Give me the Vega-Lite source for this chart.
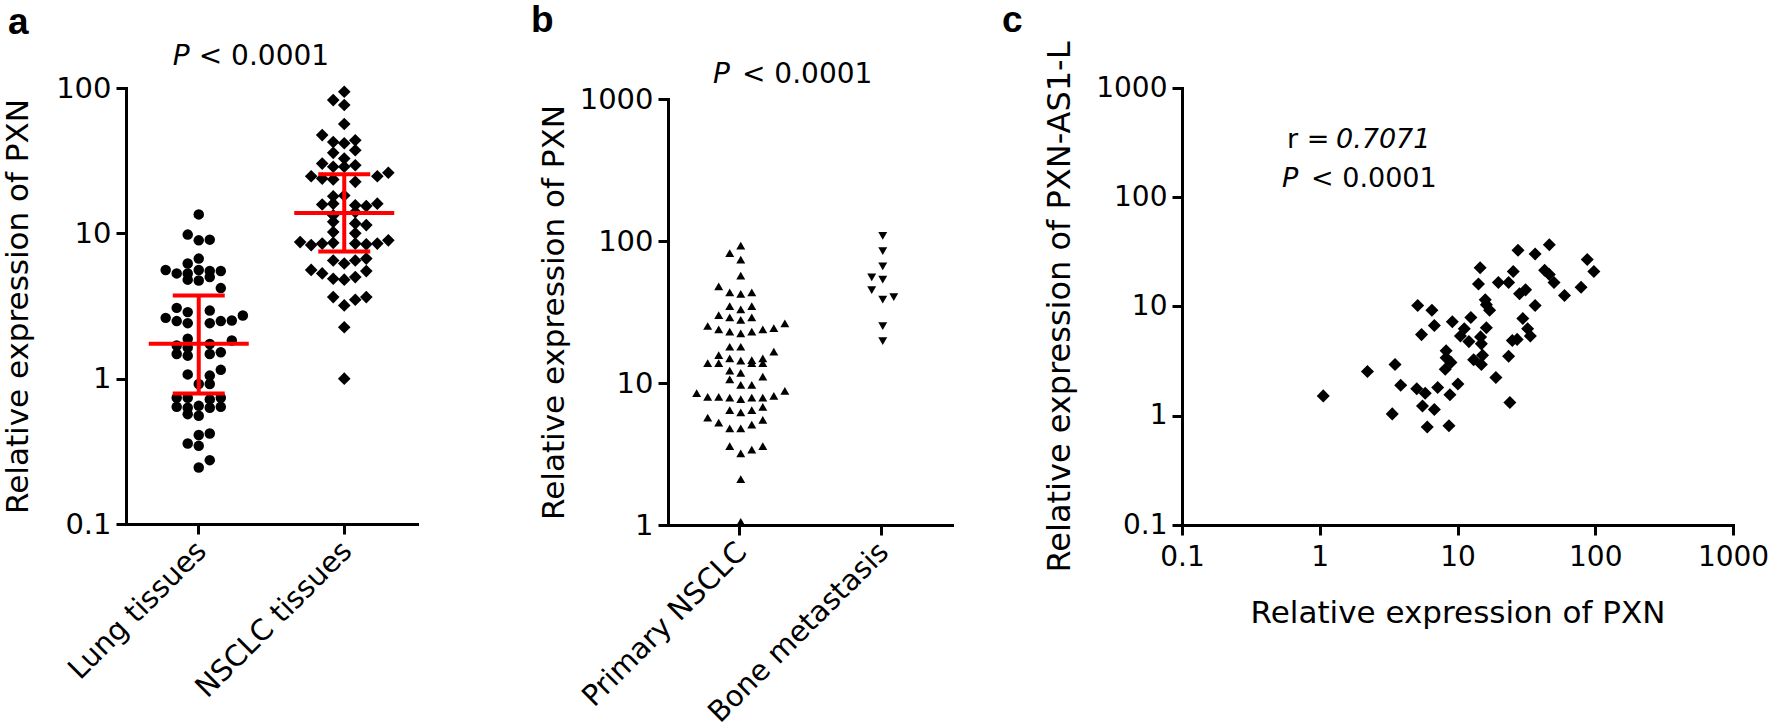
{
  "$schema": "https://vega.github.io/schema/vega-lite/v6.json",
  "autosize": {"type": "none"},
  "padding": {"left": 126, "top": 88, "right": 1646, "bottom": 634},
  "background": "white",
  "bounds": "flush",
  "spacing": 0,
  "config": {
    "view": {"stroke": null},
    "font": "DejaVu Sans",
    "axis": {
      "domainColor": "black", "domainWidth": 3, "domainCap": "square",
      "tickColor": "black", "tickWidth": 3, "tickSize": 10,
      "labelColor": "black", "titleColor": "black",
      "labelFont": "DejaVu Sans", "titleFont": "DejaVu Sans",
      "labelFontSize": 29, "titleFontSize": 31, "titleFontWeight": "normal",
      "grid": false, "labelPadding": 5, "labelOverlap": false, "labelBound": false, "labelFlush": false, "labelLimit": 0, "titleLimit": 0
    },
    "title": {"font": "Liberation Sans", "fontSize": 37, "fontWeight": "bold", "color": "black", "anchor": "start", "frame": "group"}
  },
  "datasets": {
    "one": [{}],
    "a": [
      {"g": "Lung tissues", "v": 13.5, "col": 0},
      {"g": "Lung tissues", "v": 9.8, "col": -1},
      {"g": "Lung tissues", "v": 8.95, "col": 0},
      {"g": "Lung tissues", "v": 9.05, "col": 1},
      {"g": "Lung tissues", "v": 6.7, "col": 0},
      {"g": "Lung tissues", "v": 6.2, "col": -1},
      {"g": "Lung tissues", "v": 5.6, "col": -3},
      {"g": "Lung tissues", "v": 5.3, "col": -2},
      {"g": "Lung tissues", "v": 5.3, "col": -1},
      {"g": "Lung tissues", "v": 5.6, "col": 0},
      {"g": "Lung tissues", "v": 5.5, "col": 1},
      {"g": "Lung tissues", "v": 5.5, "col": 2},
      {"g": "Lung tissues", "v": 4.8, "col": -1},
      {"g": "Lung tissues", "v": 4.74, "col": 0},
      {"g": "Lung tissues", "v": 5.0, "col": 1},
      {"g": "Lung tissues", "v": 4.2, "col": 2},
      {"g": "Lung tissues", "v": 3.07, "col": -2},
      {"g": "Lung tissues", "v": 2.87, "col": -1},
      {"g": "Lung tissues", "v": 2.94, "col": 1},
      {"g": "Lung tissues", "v": 2.62, "col": -3},
      {"g": "Lung tissues", "v": 2.49, "col": -2},
      {"g": "Lung tissues", "v": 2.41, "col": -1},
      {"g": "Lung tissues", "v": 2.41, "col": 1},
      {"g": "Lung tissues", "v": 2.49, "col": 2},
      {"g": "Lung tissues", "v": 2.51, "col": 3},
      {"g": "Lung tissues", "v": 2.72, "col": 4},
      {"g": "Lung tissues", "v": 1.88, "col": -1},
      {"g": "Lung tissues", "v": 1.83, "col": 3},
      {"g": "Lung tissues", "v": 1.69, "col": -2},
      {"g": "Lung tissues", "v": 1.64, "col": -1},
      {"g": "Lung tissues", "v": 1.73, "col": 1},
      {"g": "Lung tissues", "v": 1.52, "col": 2},
      {"g": "Lung tissues", "v": 1.48, "col": -2},
      {"g": "Lung tissues", "v": 1.44, "col": -1},
      {"g": "Lung tissues", "v": 1.48, "col": 1},
      {"g": "Lung tissues", "v": 1.15, "col": 2},
      {"g": "Lung tissues", "v": 1.07, "col": -1},
      {"g": "Lung tissues", "v": 1.05, "col": 1},
      {"g": "Lung tissues", "v": 0.92, "col": 0},
      {"g": "Lung tissues", "v": 0.92, "col": 1},
      {"g": "Lung tissues", "v": 0.74, "col": -2},
      {"g": "Lung tissues", "v": 0.74, "col": -1},
      {"g": "Lung tissues", "v": 0.74, "col": 2},
      {"g": "Lung tissues", "v": 0.72, "col": 1},
      {"g": "Lung tissues", "v": 0.64, "col": -2},
      {"g": "Lung tissues", "v": 0.63, "col": -1},
      {"g": "Lung tissues", "v": 0.65, "col": 0},
      {"g": "Lung tissues", "v": 0.63, "col": 1},
      {"g": "Lung tissues", "v": 0.64, "col": 2},
      {"g": "Lung tissues", "v": 0.57, "col": -1},
      {"g": "Lung tissues", "v": 0.556, "col": 0},
      {"g": "Lung tissues", "v": 0.41, "col": 0},
      {"g": "Lung tissues", "v": 0.42, "col": 1},
      {"g": "Lung tissues", "v": 0.358, "col": -1},
      {"g": "Lung tissues", "v": 0.345, "col": 0},
      {"g": "Lung tissues", "v": 0.275, "col": 1},
      {"g": "Lung tissues", "v": 0.245, "col": 0},
      {"g": "NSCLC tissues", "v": 94.3, "col": 0},
      {"g": "NSCLC tissues", "v": 82.6, "col": -1},
      {"g": "NSCLC tissues", "v": 76.4, "col": 0},
      {"g": "NSCLC tissues", "v": 56.5, "col": 0},
      {"g": "NSCLC tissues", "v": 47.4, "col": -2},
      {"g": "NSCLC tissues", "v": 42.5, "col": -1},
      {"g": "NSCLC tissues", "v": 41.7, "col": 0},
      {"g": "NSCLC tissues", "v": 43.7, "col": 1},
      {"g": "NSCLC tissues", "v": 35.8, "col": -1},
      {"g": "NSCLC tissues", "v": 32.7, "col": 0},
      {"g": "NSCLC tissues", "v": 37.3, "col": 1},
      {"g": "NSCLC tissues", "v": 30.2, "col": -2},
      {"g": "NSCLC tissues", "v": 28.7, "col": -1},
      {"g": "NSCLC tissues", "v": 28.7, "col": 0},
      {"g": "NSCLC tissues", "v": 29.4, "col": 1},
      {"g": "NSCLC tissues", "v": 24.7, "col": -3},
      {"g": "NSCLC tissues", "v": 23.8, "col": -2},
      {"g": "NSCLC tissues", "v": 23.5, "col": -1},
      {"g": "NSCLC tissues", "v": 22.6, "col": 1},
      {"g": "NSCLC tissues", "v": 24.7, "col": 3},
      {"g": "NSCLC tissues", "v": 26.1, "col": 4},
      {"g": "NSCLC tissues", "v": 18.0, "col": -1},
      {"g": "NSCLC tissues", "v": 18.2, "col": 0},
      {"g": "NSCLC tissues", "v": 15.8, "col": -2},
      {"g": "NSCLC tissues", "v": 16.0, "col": -1},
      {"g": "NSCLC tissues", "v": 15.6, "col": 1},
      {"g": "NSCLC tissues", "v": 15.4, "col": 2},
      {"g": "NSCLC tissues", "v": 16.0, "col": 3},
      {"g": "NSCLC tissues", "v": 13.3, "col": -1},
      {"g": "NSCLC tissues", "v": 14.0, "col": 1},
      {"g": "NSCLC tissues", "v": 12.0, "col": -1},
      {"g": "NSCLC tissues", "v": 11.7, "col": 1},
      {"g": "NSCLC tissues", "v": 11.4, "col": 2},
      {"g": "NSCLC tissues", "v": 10.2, "col": -1},
      {"g": "NSCLC tissues", "v": 10.0, "col": 1},
      {"g": "NSCLC tissues", "v": 8.7, "col": -4},
      {"g": "NSCLC tissues", "v": 8.3, "col": -3},
      {"g": "NSCLC tissues", "v": 8.5, "col": -2},
      {"g": "NSCLC tissues", "v": 8.6, "col": -1},
      {"g": "NSCLC tissues", "v": 8.5, "col": 1},
      {"g": "NSCLC tissues", "v": 8.4, "col": 2},
      {"g": "NSCLC tissues", "v": 8.5, "col": 3},
      {"g": "NSCLC tissues", "v": 8.95, "col": 4},
      {"g": "NSCLC tissues", "v": 6.5, "col": -1},
      {"g": "NSCLC tissues", "v": 6.2, "col": 0},
      {"g": "NSCLC tissues", "v": 6.5, "col": 1},
      {"g": "NSCLC tissues", "v": 6.7, "col": 2},
      {"g": "NSCLC tissues", "v": 5.6, "col": -3},
      {"g": "NSCLC tissues", "v": 5.3, "col": -2},
      {"g": "NSCLC tissues", "v": 4.87, "col": -1},
      {"g": "NSCLC tissues", "v": 4.8, "col": 0},
      {"g": "NSCLC tissues", "v": 5.0, "col": 1},
      {"g": "NSCLC tissues", "v": 5.5, "col": 2},
      {"g": "NSCLC tissues", "v": 3.64, "col": -1},
      {"g": "NSCLC tissues", "v": 3.19, "col": 0},
      {"g": "NSCLC tissues", "v": 3.49, "col": 1},
      {"g": "NSCLC tissues", "v": 3.64, "col": 2},
      {"g": "NSCLC tissues", "v": 2.26, "col": 0},
      {"g": "NSCLC tissues", "v": 1.0, "col": 0}
    ],
    "astats": [
      {"g": "Lung tissues", "median": 1.74, "lo": 0.79, "hi": 3.74},
      {"g": "NSCLC tissues", "median": 13.8, "lo": 7.5, "hi": 25.5}
    ],
    "b": [
      {"g": "Primary NSCLC", "v": 92.7, "col": 0},
      {"g": "Primary NSCLC", "v": 82.3, "col": -1},
      {"g": "Primary NSCLC", "v": 73.8, "col": 0},
      {"g": "Primary NSCLC", "v": 57.0, "col": 0},
      {"g": "Primary NSCLC", "v": 48, "col": -2},
      {"g": "Primary NSCLC", "v": 43.5, "col": -1},
      {"g": "Primary NSCLC", "v": 42.4, "col": 0},
      {"g": "Primary NSCLC", "v": 43.5, "col": 1},
      {"g": "Primary NSCLC", "v": 34.8, "col": -1},
      {"g": "Primary NSCLC", "v": 33.0, "col": 0},
      {"g": "Primary NSCLC", "v": 34.8, "col": 1},
      {"g": "Primary NSCLC", "v": 30.1, "col": -2},
      {"g": "Primary NSCLC", "v": 29.0, "col": -1},
      {"g": "Primary NSCLC", "v": 27.8, "col": 0},
      {"g": "Primary NSCLC", "v": 29.0, "col": 1},
      {"g": "Primary NSCLC", "v": 25.2, "col": -3},
      {"g": "Primary NSCLC", "v": 23.9, "col": -2},
      {"g": "Primary NSCLC", "v": 23.0, "col": -1},
      {"g": "Primary NSCLC", "v": 22.4, "col": 0},
      {"g": "Primary NSCLC", "v": 23.0, "col": 1},
      {"g": "Primary NSCLC", "v": 23.9, "col": 2},
      {"g": "Primary NSCLC", "v": 24.3, "col": 3},
      {"g": "Primary NSCLC", "v": 26.3, "col": 4},
      {"g": "Primary NSCLC", "v": 18.0, "col": -1},
      {"g": "Primary NSCLC", "v": 18.0, "col": 0},
      {"g": "Primary NSCLC", "v": 16.6, "col": 3},
      {"g": "Primary NSCLC", "v": 13.8, "col": -3},
      {"g": "Primary NSCLC", "v": 13.8, "col": -2},
      {"g": "Primary NSCLC", "v": 15.7, "col": -2},
      {"g": "Primary NSCLC", "v": 14.9, "col": -1},
      {"g": "Primary NSCLC", "v": 14.4, "col": 0},
      {"g": "Primary NSCLC", "v": 13.8, "col": 1},
      {"g": "Primary NSCLC", "v": 14.5, "col": 1},
      {"g": "Primary NSCLC", "v": 13.8, "col": 2},
      {"g": "Primary NSCLC", "v": 14.9, "col": 2},
      {"g": "Primary NSCLC", "v": 12.2, "col": -1},
      {"g": "Primary NSCLC", "v": 11.8, "col": 0},
      {"g": "Primary NSCLC", "v": 10.6, "col": -1},
      {"g": "Primary NSCLC", "v": 11.1, "col": 2},
      {"g": "Primary NSCLC", "v": 9.7, "col": 0},
      {"g": "Primary NSCLC", "v": 9.7, "col": 1},
      {"g": "Primary NSCLC", "v": 8.5, "col": -4},
      {"g": "Primary NSCLC", "v": 8.0, "col": -3},
      {"g": "Primary NSCLC", "v": 8.0, "col": -2},
      {"g": "Primary NSCLC", "v": 7.9, "col": -1},
      {"g": "Primary NSCLC", "v": 7.7, "col": 0},
      {"g": "Primary NSCLC", "v": 7.9, "col": 1},
      {"g": "Primary NSCLC", "v": 7.9, "col": 2},
      {"g": "Primary NSCLC", "v": 8.1, "col": 3},
      {"g": "Primary NSCLC", "v": 8.8, "col": 4},
      {"g": "Primary NSCLC", "v": 6.45, "col": -1},
      {"g": "Primary NSCLC", "v": 6.2, "col": 0},
      {"g": "Primary NSCLC", "v": 6.45, "col": 1},
      {"g": "Primary NSCLC", "v": 6.8, "col": 2},
      {"g": "Primary NSCLC", "v": 5.7, "col": -3},
      {"g": "Primary NSCLC", "v": 5.25, "col": -2},
      {"g": "Primary NSCLC", "v": 4.8, "col": -1},
      {"g": "Primary NSCLC", "v": 4.8, "col": 0},
      {"g": "Primary NSCLC", "v": 5.1, "col": 1},
      {"g": "Primary NSCLC", "v": 5.5, "col": 2},
      {"g": "Primary NSCLC", "v": 3.6, "col": -1},
      {"g": "Primary NSCLC", "v": 3.2, "col": 0},
      {"g": "Primary NSCLC", "v": 3.4, "col": 1},
      {"g": "Primary NSCLC", "v": 3.6, "col": 2},
      {"g": "Primary NSCLC", "v": 2.1, "col": 0},
      {"g": "Primary NSCLC", "v": 1.05, "col": 0},
      {"g": "Bone metastasis", "v": 108.6, "col": 0},
      {"g": "Bone metastasis", "v": 84.9, "col": 0},
      {"g": "Bone metastasis", "v": 66.2, "col": 0},
      {"g": "Bone metastasis", "v": 55.4, "col": -1},
      {"g": "Bone metastasis", "v": 53.4, "col": 0},
      {"g": "Bone metastasis", "v": 45.0, "col": -1},
      {"g": "Bone metastasis", "v": 38.7, "col": 0},
      {"g": "Bone metastasis", "v": 40.2, "col": 1},
      {"g": "Bone metastasis", "v": 25.1, "col": 0},
      {"g": "Bone metastasis", "v": 19.7, "col": 0}
    ],
    "c": [
      {"pxn": 1.06, "as1": 1.52}, {"pxn": 2.22, "as1": 2.54}, {"pxn": 3.52, "as1": 2.94}, {"pxn": 3.87, "as1": 1.90},
      {"pxn": 3.36, "as1": 1.04}, {"pxn": 5.14, "as1": 10.2}, {"pxn": 5.48, "as1": 5.53}, {"pxn": 5.06, "as1": 1.77},
      {"pxn": 5.83, "as1": 1.61}, {"pxn": 5.57, "as1": 1.23}, {"pxn": 6.03, "as1": 0.79}, {"pxn": 6.52, "as1": 9.25},
      {"pxn": 6.79, "as1": 6.71}, {"pxn": 6.79, "as1": 1.14}, {"pxn": 7.18, "as1": 1.81}, {"pxn": 8.27, "as1": 3.40},
      {"pxn": 8.27, "as1": 3.94}, {"pxn": 8.15, "as1": 2.67}, {"pxn": 8.96, "as1": 3.08}, {"pxn": 9.17, "as1": 7.26},
      {"pxn": 8.67, "as1": 0.81}, {"pxn": 8.81, "as1": 1.56}, {"pxn": 10.07, "as1": 1.95}, {"pxn": 10.5, "as1": 5.37},
      {"pxn": 11.2, "as1": 6.27}, {"pxn": 12.1, "as1": 4.77}, {"pxn": 12.5, "as1": 7.93}, {"pxn": 13.1, "as1": 3.25},
      {"pxn": 14.2, "as1": 16.1}, {"pxn": 14.6, "as1": 22.6}, {"pxn": 14.7, "as1": 5.27}, {"pxn": 14.9, "as1": 4.55},
      {"pxn": 15.2, "as1": 3.57}, {"pxn": 14.9, "as1": 2.94}, {"pxn": 15.9, "as1": 11.5}, {"pxn": 16.2, "as1": 10.4},
      {"pxn": 16.2, "as1": 6.4}, {"pxn": 17.1, "as1": 9.25}, {"pxn": 19.8, "as1": 16.6}, {"pxn": 19.0, "as1": 2.24},
      {"pxn": 23.5, "as1": 16.6}, {"pxn": 23.5, "as1": 3.50}, {"pxn": 24.0, "as1": 1.32}, {"pxn": 25.4, "as1": 20.9},
      {"pxn": 25.0, "as1": 4.88}, {"pxn": 27.1, "as1": 5.0}, {"pxn": 27.5, "as1": 32.7}, {"pxn": 28.2, "as1": 13.1},
      {"pxn": 29.8, "as1": 7.76}, {"pxn": 31.2, "as1": 14.2}, {"pxn": 32.3, "as1": 6.27}, {"pxn": 33.8, "as1": 5.37},
      {"pxn": 36.6, "as1": 30.3}, {"pxn": 36.6, "as1": 10.2}, {"pxn": 42.9, "as1": 21.5}, {"pxn": 46.4, "as1": 19.6},
      {"pxn": 46.4, "as1": 36.7}, {"pxn": 50.2, "as1": 16.6}, {"pxn": 59.8, "as1": 12.6}, {"pxn": 78.9, "as1": 15.0},
      {"pxn": 87.5, "as1": 26.9}, {"pxn": 97.7, "as1": 20.9}
    ]
  },
  "hconcat": [
    {
      "width": 291, "height": 436,
      "title": {"text": "a", "dx": -118, "offset": 1},
      "layer": [
        {
          "data": {"name": "a"},
          "transform": [{"filter": "datum.g === 'Lung tissues'"}],
          "mark": {"type": "point", "shape": "circle", "filled": true, "opacity": 1, "color": "black", "size": 110},
          "encoding": {
            "x": {"field": "g", "type": "nominal", "scale": {"domain": ["Lung tissues", "NSCLC tissues"], "paddingInner": 0, "paddingOuter": 0},
                  "axis": {"title": null, "labelAngle": -45, "labelAlign": "right", "labelBaseline": "top", "labelOffset": -7, "labelPadding": 2}},
            "xOffset": {"field": "col", "type": "quantitative", "scale": {"domain": [-6.6, 6.6]}},
            "y": {"field": "v", "type": "quantitative", "scale": {"type": "log", "domain": [0.1, 100], "nice": false},
                  "axis": {"values": [0.1, 1, 10, 100], "format": "~g", "title": "Relative expression of PXN", "titlePadding": 21}}
          }
        },
        {
          "data": {"name": "a"},
          "transform": [{"filter": "datum.g === 'NSCLC tissues'"}],
          "mark": {"type": "point", "shape": "diamond", "filled": true, "opacity": 1, "color": "black", "size": 160},
          "encoding": {
            "x": {"field": "g", "type": "nominal"},
            "xOffset": {"field": "col", "type": "quantitative", "scale": {"domain": [-6.6, 6.6]}},
            "y": {"field": "v", "type": "quantitative"}
          }
        },
        {
          "data": {"name": "astats"},
          "mark": {"type": "rule", "color": "#ff0000", "strokeWidth": 4},
          "encoding": {
            "x": {"field": "g", "type": "nominal"},
            "y": {"field": "lo", "type": "quantitative"},
            "y2": {"field": "hi"}
          }
        },
        {
          "data": {"name": "astats"},
          "mark": {"type": "tick", "color": "#ff0000", "size": 100, "thickness": 4, "opacity": 1},
          "encoding": {"x": {"field": "g", "type": "nominal"}, "y": {"field": "median", "type": "quantitative"}}
        },
        {
          "data": {"name": "astats"},
          "mark": {"type": "tick", "color": "#ff0000", "size": 52, "thickness": 4, "opacity": 1},
          "encoding": {"x": {"field": "g", "type": "nominal"}, "y": {"field": "lo", "type": "quantitative"}}
        },
        {
          "data": {"name": "astats"},
          "mark": {"type": "tick", "color": "#ff0000", "size": 52, "thickness": 4, "opacity": 1},
          "encoding": {"x": {"field": "g", "type": "nominal"}, "y": {"field": "hi", "type": "quantitative"}}
        },
        {
          "data": {"name": "one"},
          "mark": {"type": "text", "text": "P", "fontStyle": "italic", "fontSize": 28, "align": "left", "baseline": "alphabetic", "dx": -26, "color": "black"},
          "encoding": {"x": {"datum": "Lung tissues"}, "y": {"datum": 144}}
        },
        {
          "data": {"name": "one"},
          "mark": {"type": "text", "text": "< 0.0001", "fontSize": 28, "align": "left", "baseline": "alphabetic", "dx": 0, "color": "black"},
          "encoding": {"x": {"datum": "Lung tissues"}, "y": {"datum": 144}}
        }
      ]
    },
    {"width": 251, "height": 10, "data": {"values": []}, "mark": {"type": "point", "opacity": 0}, "encoding": {}},
    {
      "width": 284, "height": 437,
      "title": {"text": "b", "dx": -137, "offset": 21},
      "layer": [
        {
          "data": {"name": "b"},
          "transform": [{"filter": "datum.g === 'Primary NSCLC'"}],
          "mark": {"type": "point", "shape": "triangle-up", "filled": true, "opacity": 1, "color": "black", "size": 80},
          "encoding": {
            "x": {"field": "g", "type": "nominal", "scale": {"domain": ["Primary NSCLC", "Bone metastasis"], "paddingInner": 0, "paddingOuter": 0},
                  "axis": {"title": null, "labelAngle": -45, "labelAlign": "right", "labelBaseline": "top", "labelOffset": -7, "labelPadding": 2}},
            "xOffset": {"field": "col", "type": "quantitative", "scale": {"domain": [-6.45, 6.45]}},
            "y": {"field": "v", "type": "quantitative", "scale": {"type": "log", "domain": [1, 1000], "nice": false, "range": [437, 11]},
                  "axis": {"values": [1, 10, 100, 1000], "format": "~g", "title": "Relative expression of PXN", "titlePadding": 9}}
          }
        },
        {
          "data": {"name": "b"},
          "transform": [{"filter": "datum.g === 'Bone metastasis'"}],
          "mark": {"type": "point", "shape": "triangle-down", "filled": true, "opacity": 1, "color": "black", "size": 80},
          "encoding": {
            "x": {"field": "g", "type": "nominal"},
            "xOffset": {"field": "col", "type": "quantitative", "scale": {"domain": [-6.45, 6.45]}},
            "y": {"field": "v", "type": "quantitative"}
          }
        },
        {
          "data": {"name": "one"},
          "mark": {"type": "text", "text": "P", "fontStyle": "italic", "fontSize": 28, "align": "left", "baseline": "alphabetic", "dx": -26, "color": "black"},
          "encoding": {"x": {"datum": "Primary NSCLC"}, "y": {"datum": 1296}}
        },
        {
          "data": {"name": "one"},
          "mark": {"type": "text", "text": "< 0.0001", "fontSize": 28, "align": "left", "baseline": "alphabetic", "dx": 3, "color": "black"},
          "encoding": {"x": {"datum": "Primary NSCLC"}, "y": {"datum": 1296}}
        }
      ]
    },
    {"width": 230, "height": 10, "data": {"values": []}, "mark": {"type": "point", "opacity": 0}, "encoding": {}},
    {
      "width": 551, "height": 437,
      "title": {"text": "c", "dx": -180, "offset": 1},
      "layer": [
        {
          "data": {"name": "c"},
          "mark": {"type": "point", "shape": "diamond", "filled": true, "opacity": 1, "color": "black", "size": 170},
          "encoding": {
            "x": {"field": "pxn", "type": "quantitative", "scale": {"type": "log", "domain": [0.1, 1000], "nice": false},
                  "axis": {"values": [0.1, 1, 10, 100, 1000], "format": "~g", "title": "Relative expression of PXN", "labelFontSize": 28, "labelPadding": 8, "titlePadding": 27}},
            "y": {"field": "as1", "type": "quantitative", "scale": {"type": "log", "domain": [0.1, 1000], "nice": false},
                  "axis": {"values": [0.1, 1, 10, 100, 1000], "format": "~g", "title": "Relative expression of PXN-AS1-L", "titleFontSize": 32, "labelFontSize": 28, "titlePadding": 19}}
          }
        },
        {
          "data": {"name": "one"},
          "mark": {"type": "text", "text": "r =", "fontSize": 27, "align": "left", "baseline": "alphabetic", "color": "black"},
          "encoding": {"x": {"datum": 0.578}, "y": {"datum": 282}}
        },
        {
          "data": {"name": "one"},
          "mark": {"type": "text", "text": "0.7071", "fontStyle": "italic", "fontSize": 27, "align": "left", "baseline": "alphabetic", "color": "black"},
          "encoding": {"x": {"datum": 1.312}, "y": {"datum": 282}}
        },
        {
          "data": {"name": "one"},
          "mark": {"type": "text", "text": "P", "fontStyle": "italic", "fontSize": 27, "align": "left", "baseline": "alphabetic", "color": "black"},
          "encoding": {"x": {"datum": 0.532}, "y": {"datum": 124}}
        },
        {
          "data": {"name": "one"},
          "mark": {"type": "text", "text": "< 0.0001", "fontSize": 27, "align": "left", "baseline": "alphabetic", "color": "black"},
          "encoding": {"x": {"datum": 0.864}, "y": {"datum": 124}}
        }
      ]
    }
  ]
}
